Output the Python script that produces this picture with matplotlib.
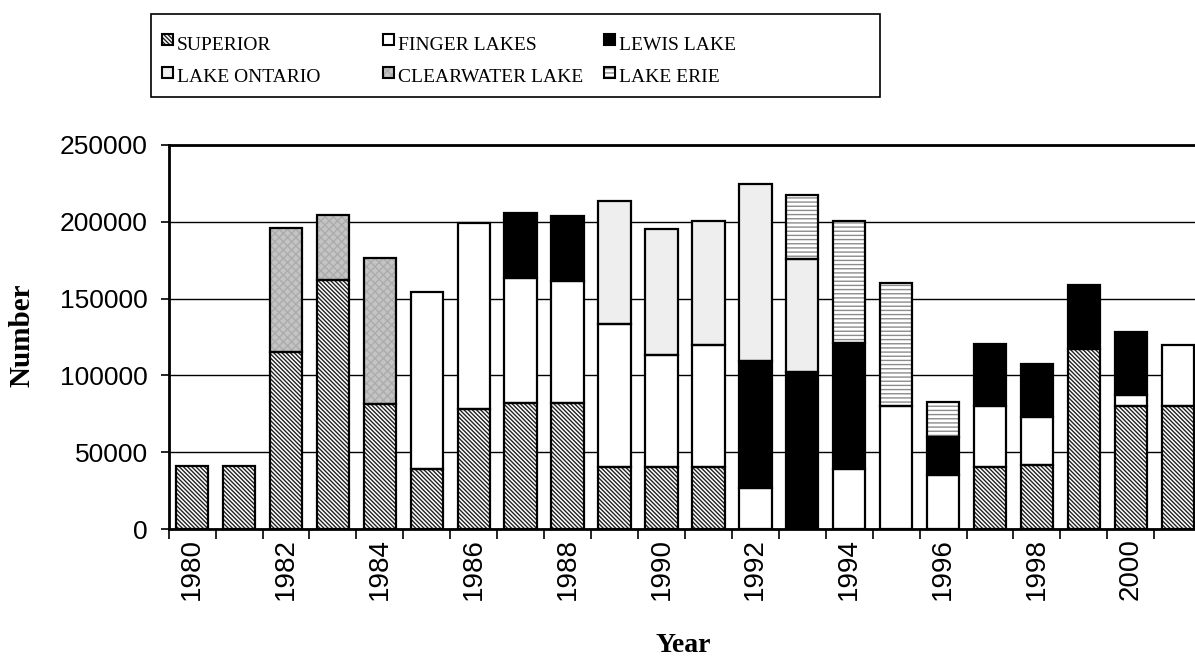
import numpy as np
import matplotlib
matplotlib.use("Agg")
import matplotlib.pyplot as plt
from matplotlib.patches import Rectangle

# ---------------------------------------------
# Data
# ---------------------------------------------
years = list(range(1980, 2002))
series_names = ["SUPERIOR", "FINGER LAKES", "LEWIS LAKE",
                "LAKE ONTARIO", "CLEARWATER LAKE", "LAKE ERIE"]

superior = [41000, 41000, 115000, 162000, 81500, 39000, 78000, 82000, 82000, 40500, 40500,
            40500, 0, 0, 0, 0, 0, 40500, 42000, 117000, 80000, 80000]
finger = [0, 0, 0, 0, 0, 115000, 121000, 81500, 79500, 93000, 72500,
          79500, 27000, 0, 39000, 80000, 35000, 39500, 31000, 0, 7500, 40000]
lewis = [0, 0, 0, 0, 0, 0, 0, 42000, 42000, 0, 0,
         0, 82500, 102000, 82000, 0, 25000, 40500, 34500, 41500, 41000, 0]
ontario = [0, 0, 0, 0, 0, 0, 0, 0, 0, 80000, 82500,
           80500, 115000, 74000, 0, 0, 0, 0, 0, 0, 0, 0]
clearwater = [0, 0, 81000, 42500, 95000, 0, 0, 0, 0, 0, 0,
              0, 0, 0, 0, 0, 0, 0, 0, 0, 0, 0]
erie = [0, 0, 0, 0, 0, 0, 0, 0, 0, 0, 0,
        0, 0, 41500, 79500, 80000, 23000, 0, 0, 0, 0, 0]

series = [superior, finger, lewis, ontario, clearwater, erie]

# fill colour, hatch, hatch colour for each series
styles = [
    ("white", "\\" * 8, "#222222"),
    ("white", None, "white"),
    ("black", None, "black"),
    ("#eeeeee", None, "#eeeeee"),
    ("#c4c4c4", "xxxx", "#acacac"),
    ("white", "----", "#8c8c8c"),
]

plt.rcParams["hatch.linewidth"] = 1.0

fig = plt.figure(figsize=(11.95, 6.62), dpi=100)
W, H = 1195.0, 662.0
ax = fig.add_axes([168.7 / W, (H - 529.3) / H, 1032.5 / W, (529.3 - 144.7) / H])

x = np.arange(len(years))
bottom = np.zeros(len(years))
bw = 0.69
for vals, (fc, hatch, hc) in zip(series, styles):
    v = np.array(vals, dtype=float)
    m = v > 0
    ax.bar(x[m], v[m], bw, bottom=bottom[m], color=fc, hatch=hatch,
           edgecolor=hc, linewidth=0, zorder=2)
    ax.bar(x[m], v[m], bw, bottom=bottom[m], fill=False,
           edgecolor="black", linewidth=1.6, zorder=3)
    bottom += v

# ---------------------------------------------
# Axes styling
# ---------------------------------------------
ax.set_xlim(-0.5, len(years) - 0.5)
ax.set_ylim(0, 250000)
ax.set_yticks(np.arange(0, 250001, 50000))
ax.yaxis.grid(True, color="black", linewidth=1.0, zorder=1)
ax.set_axisbelow(True)
for s in ["left", "bottom", "top"]:
    ax.spines[s].set_linewidth(2)
ax.spines["right"].set_visible(False)

ax.set_xticks(np.arange(-0.5, len(years), 1.0))
ax.set_xticklabels([])
ax.set_xticks(x[::2], minor=True)
ax.set_xticklabels([str(y) for y in years[::2]], minor=True, rotation=90,
                   fontsize=20, family="Liberation Sans")
ax.tick_params(axis="x", which="major", length=7, width=1.2, direction="out")
ax.tick_params(axis="x", which="minor", length=0, pad=6)
ax.tick_params(axis="y", length=6, width=1.2, direction="out", labelsize=19, pad=9)
for lab in ax.get_yticklabels():
    lab.set_family("Liberation Sans")

fig.text(22 / W, 1 - 335 / H, "Number", rotation=90, ha="center", va="center",
         fontsize=21, fontweight="bold", family="Liberation Serif")
fig.text(683 / W, 1 - 645 / H, "Year", ha="center", va="center",
         fontsize=20, fontweight="bold", family="Liberation Serif")

# ---------------------------------------------
# Legend box (drawn by hand, Excel-style)
# ---------------------------------------------
fig.patches.append(Rectangle((151 / W, 1 - 97 / H), 729 / W, 83 / H,
                             transform=fig.transFigure, fill=False,
                             edgecolor="black", linewidth=1.2))
col_x = [162, 383, 604]
row_y = [34, 67]
sw = 11
for i, (name, (fc, hatch, hc)) in enumerate(zip(series_names, styles)):
    cx = col_x[i % 3]
    ry = row_y[i // 3]
    fig.patches.append(Rectangle((cx / W, 1 - (ry + sw) / H), sw / W, sw / H,
                                 transform=fig.transFigure, facecolor=fc,
                                 hatch=hatch, edgecolor=hc, linewidth=0))
    fig.patches.append(Rectangle((cx / W, 1 - (ry + sw) / H), sw / W, sw / H,
                                 transform=fig.transFigure, fill=False,
                                 edgecolor="black", linewidth=1.5))
    fig.text((cx + 15) / W, 1 - (ry + 11) / H, name, ha="left", va="center",
             fontsize=14, family="Liberation Serif")

fig.savefig("out.png", dpi=100)
